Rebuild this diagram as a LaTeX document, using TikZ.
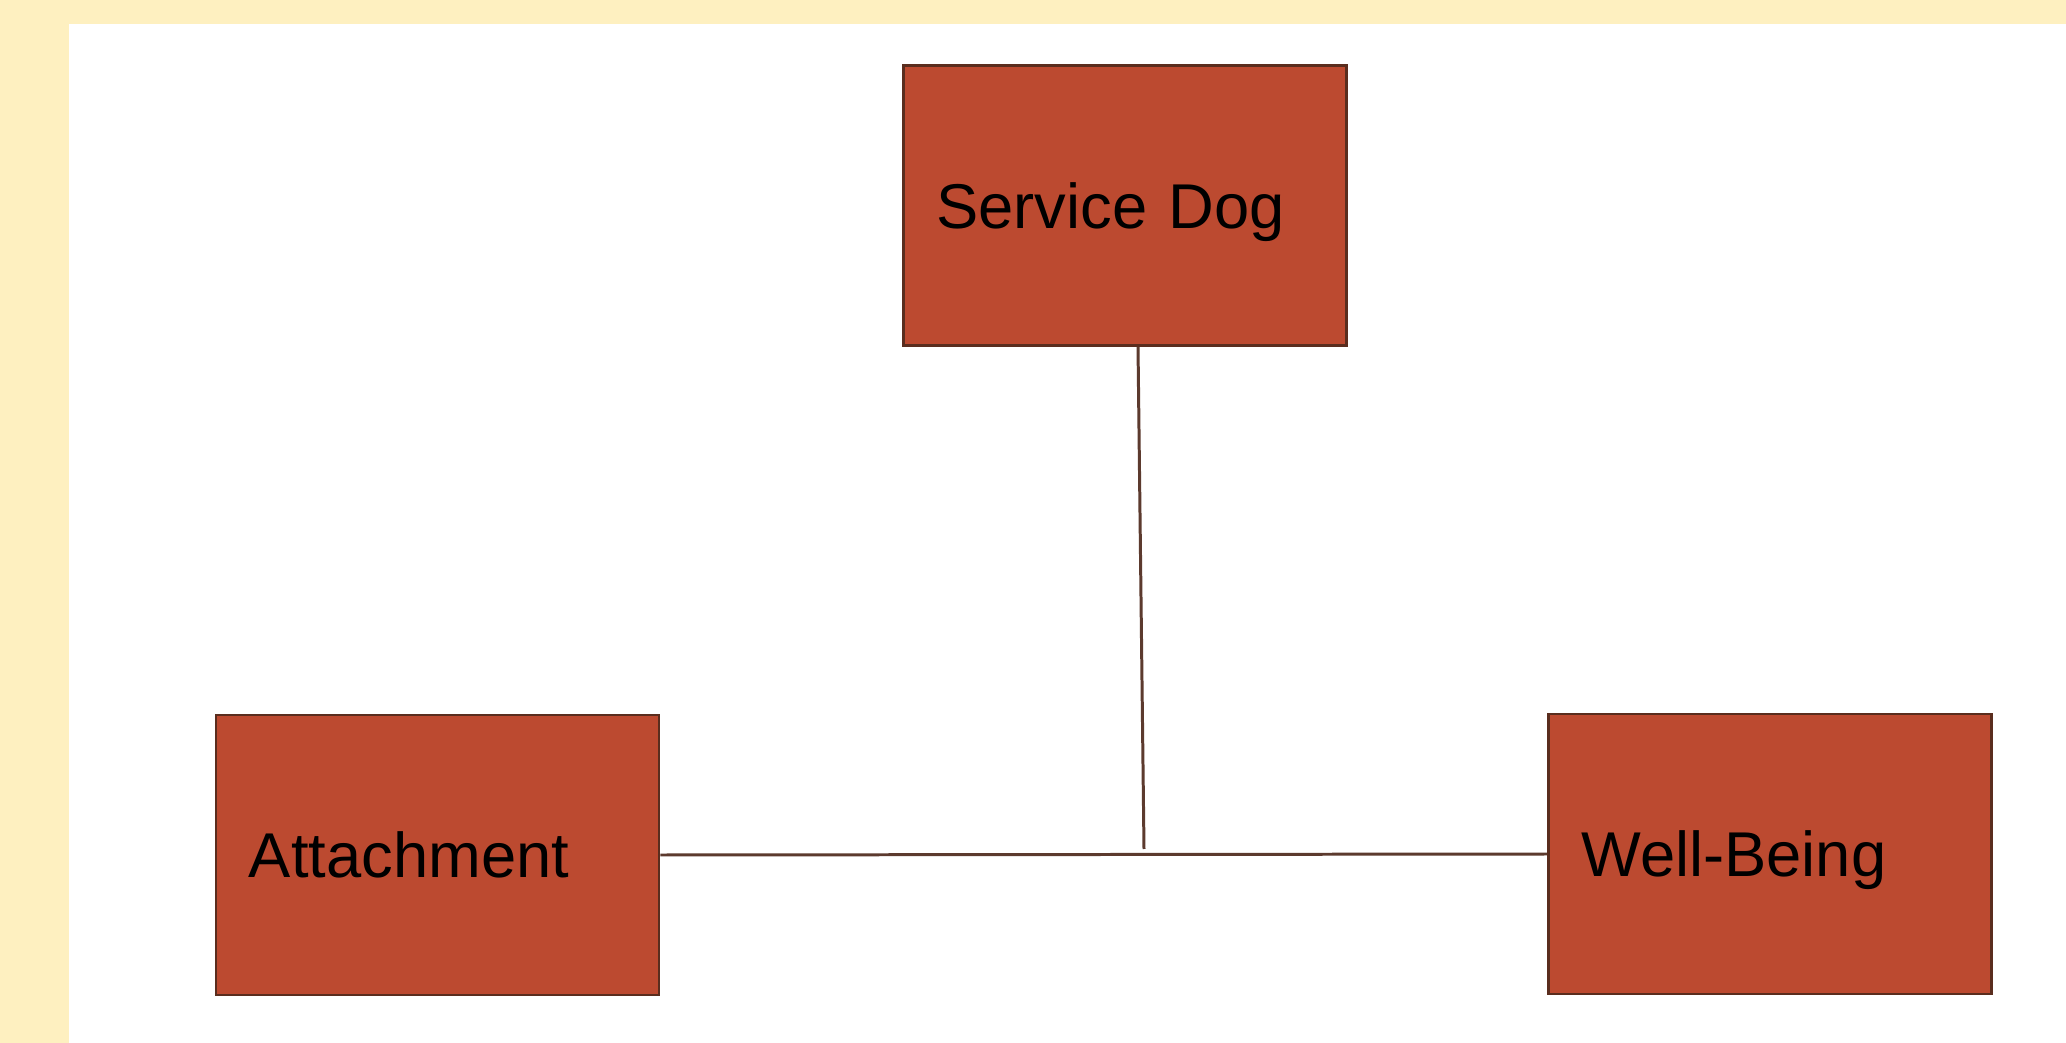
\documentclass[tikz,border=0pt]{standalone}
\usepackage{fontspec}
\setmainfont{Liberation Sans}
\usepackage{tikz}
\usetikzlibrary{positioning}
\definecolor{pad}{RGB}{254,240,192}
\definecolor{brick}{RGB}{188,74,48}
\definecolor{edge}{RGB}{90,45,30}
\definecolor{wire}{RGB}{92,58,46}
\tikzset{box/.style={draw=edge,fill=brick,line width=0.7pt,minimum width=4.43cm,minimum height=2.8cm,inner xsep=0.33cm,text width=3.77cm,text depth=0pt,align=left,font=\fontsize{18}{20}\selectfont,text=black},
wire/.style={draw=wire,line width=0.85pt}}

\begin{document}
\begin{tikzpicture}[x=0.01cm,y=-0.01cm]
		\useasboundingbox[fill=pad] (0,0) rectangle (2066,1043);
		\fill[white] (69,24) rectangle (2066,1043);
		
		\node[box] (dog)  at (1125,205.5) {Service Dog};
		\node[box] (att)  at (437.5,855)  {Attachment};
		\node[box] (well) at (1770,854)   {Well-Being};
		
		\coordinate (joint) at (1144,849);
		\draw[wire] (att.east) -- (well.west);
		\draw[wire] ([xshift=0.13cm]dog.south) -- (joint);
	\end{tikzpicture}
\end{document}
